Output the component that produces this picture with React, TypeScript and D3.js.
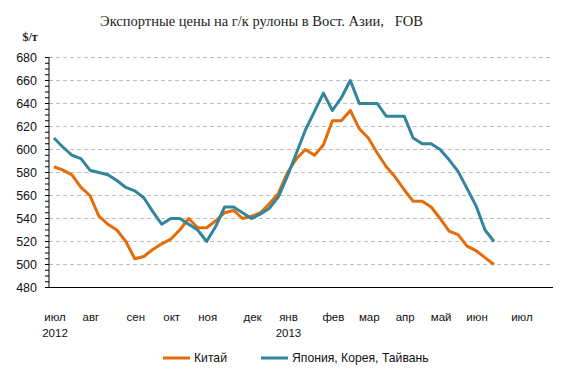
import React from "react";
import * as d3 from "d3";

const chinaValues = [585, 582, 578, 567, 560, 542, 535, 530, 520, 505, 507, 513, 518, 522, 530, 540, 532, 532, 538, 545, 547, 540, 542, 545, 553, 562, 580, 592, 600, 595, 604, 625, 625, 634, 618, 610, 597, 585, 576, 565, 555, 555, 550, 540, 529, 526, 516, 512, 506, 500];
const asiaValues = [610, 602, 595, 592, 582, 580, 578, 573, 567, 564, 558, 546, 535, 540, 540, 535, 530, 520, 533, 550, 550, 545, 540, 544, 549, 559, 577, 597, 617, 633, 649, 634, 645, 660, 640, 640, 640, 629, 629, 629, 610, 605, 605, 600, 591, 581, 566, 551, 530, 520];
const monthLabels = ["июл", "авг", "сен", "окт", "ноя", "дек", "янв", "фев", "мар", "апр", "май", "июн", "июл"];
const monthWeekIndex = [0, 4, 9, 13, 17, 22, 26, 31, 35, 39, 43, 47, 52];
const yearLabels = ["2012", "2013"];
const yearWeekIndex = [0, 26];
const yTicks = [480, 500, 520, 540, 560, 580, 600, 620, 640, 660, 680];
const seriesNames = ["Китай", "Япония, Корея, Тайвань"];

const COLORS = ["#E46C0A", "#31859C"];

export default function App() {
  const W = 579, H = 378;
  const axisX0 = 49, axisX1 = 553, gridX1 = 550;
  const x = d3.scaleLinear().domain([0, 49]).range([54, 494]);
  const y = d3.scaleLinear().domain([480, 680]).range([287.5, 57.5]);
  const line = d3.line<number>().x((_, i) => x(i)).y((d) => y(d));
  const minorTicks = d3.range(480, 681, 5);
  const series = [chinaValues, asiaValues];
  const sans = "'Liberation Sans', Arial, sans-serif";

  return (
    <svg width={W} height={H} style={{ position: "absolute", left: 0, top: 0, background: "#fff" }}>
      <text x={261.5} y={26} textAnchor="middle" fontFamily="'Liberation Serif', serif" fontSize={14.5} fill="#222" style={{ whiteSpace: "pre" }}>
        {"Экспортные цены на г/к рулоны в Вост. Азии,   FOB"}
      </text>
      <text x={30} y={41} textAnchor="middle" fontFamily="'Liberation Serif', serif" fontWeight="bold" fontSize={12} fill="#222">
        $/т
      </text>
      {yTicks.filter((t) => t > 480).map((t) => (
        <line key={"g" + t} x1={axisX0} x2={gridX1} y1={y(t)} y2={y(t)} stroke="#BDBDBD" strokeWidth={1} strokeDasharray="4,3" />
      ))}
      {minorTicks.map((t) => (
        <line key={"m" + t} x1={axisX0 - 4} x2={axisX0} y1={y(t)} y2={y(t)} stroke="#000" strokeWidth={1} />
      ))}
      <line x1={axisX0} x2={axisX0} y1={y(680) - 0.5} y2={y(480)} stroke="#000" strokeWidth={1} />
      <line x1={axisX0} x2={axisX1} y1={y(480)} y2={y(480)} stroke="#000" strokeWidth={1} />
      {yTicks.map((t) => (
        <text key={"yl" + t} x={37} y={y(t)} dy="0.35em" textAnchor="end" fontFamily={sans} fontSize={12.5} fill="#111">
          {t}
        </text>
      ))}
      {monthLabels.map((m, i) => (
        <text key={"ml" + i} x={x(monthWeekIndex[i]) + 1} y={321} textAnchor="middle" fontFamily={sans} fontSize={11.5} fill="#111">
          {m}
        </text>
      ))}
      {yearLabels.map((yl, i) => (
        <text key={"yr" + i} x={x(yearWeekIndex[i]) + 1} y={337} textAnchor="middle" fontFamily={sans} fontSize={11.5} fill="#111">
          {yl}
        </text>
      ))}
      {series.map((s, k) => (
        <path key={"s" + k} d={line(s) || ""} fill="none" stroke={COLORS[k]} strokeWidth={3} strokeLinejoin="round" />
      ))}
      {seriesNames.map((n, k) => {
        const lx = k === 0 ? 163 : 261;
        return (
          <g key={"lg" + k}>
            <line x1={lx} x2={lx + 27} y1={358} y2={358} stroke={COLORS[k]} strokeWidth={3} />
            <text x={lx + 31} y={358} dy="0.35em" fontFamily={sans} fontSize={12.2} fill="#111">
              {n}
            </text>
          </g>
        );
      })}
    </svg>
  );
}
